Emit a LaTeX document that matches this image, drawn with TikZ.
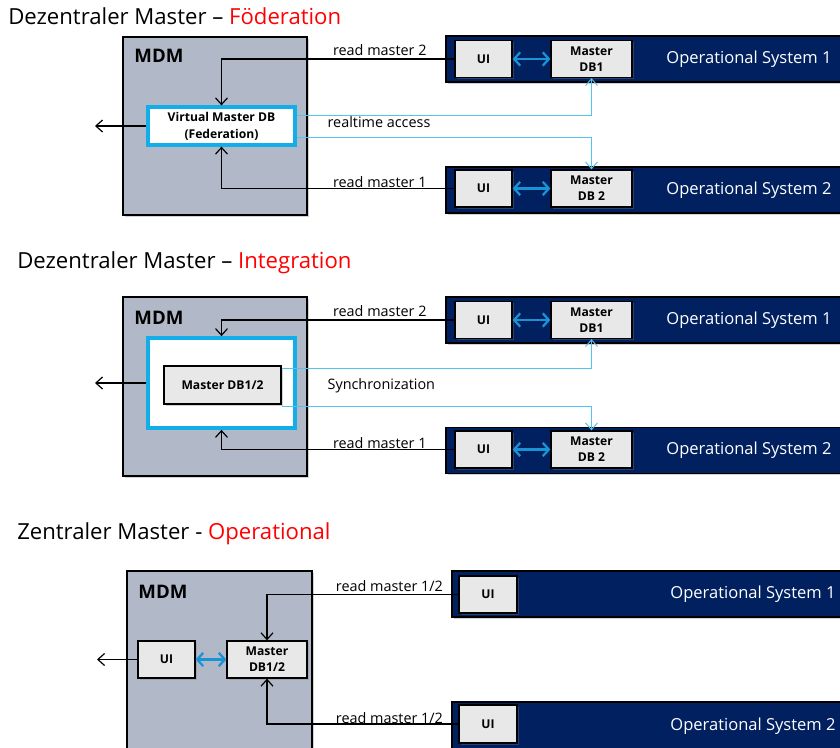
\documentclass[tikz,border=0pt]{standalone}
\usepackage{fontspec}
\setmainfont{Open Sans}
\usetikzlibrary{arrows.meta,calc,shadows}
\definecolor{mdmgray}{HTML}{B1B8C8}
\definecolor{navy}{HTML}{002060}
\definecolor{boxgray}{HTML}{E8E8E8}
\definecolor{cyanbd}{HTML}{12AEEA}
\definecolor{cyanln}{HTML}{52C2EE}
\definecolor{dblue}{HTML}{1A93D6}
\definecolor{titred}{HTML}{FF0000}
\newcommand\px{*0.75pt}
\tikzset{
  shd/.style={drop shadow={opacity=0.35, shadow xshift=1.5pt, shadow yshift=-1.5pt}},
  mdmbox/.style={draw=black, line width=1.1pt, fill=mdmgray, inner sep=0pt, shd},
  mdmtxt/.style={font=\bfseries\fontsize{14}{16}\selectfont, inner sep=0pt},
  osbar/.style={draw=black, line width=0.8pt, fill=navy, inner sep=0pt, shd},
  ostxt/.style={text=white, font=\fontsize{12.4}{14}\selectfont, inner sep=0pt},
  gbox/.style={draw=black, line width=1pt, fill=boxgray, inner sep=0pt, align=center,
    font=\bfseries\fontsize{9.1}{12}\selectfont, shd},
  cbox/.style={draw=cyanbd, line width=2.4pt, fill=white, inner sep=0pt, align=center,
    font=\bfseries\fontsize{9.1}{12.6}\selectfont},
  arr/.style={draw=black, line width=0.9pt, -{Straight Barb[length=5pt,width=9pt,line width=0.9pt]}},
  sync/.style={draw=cyanln, line width=0.7pt, -{Straight Barb[length=5pt,width=9pt,line width=0.7pt]}},
  dbl/.style={draw=dblue, line width=1.9pt, {Straight Barb[length=4.5pt,width=10pt,line width=1.7pt]}-{Straight Barb[length=4.5pt,width=10pt,line width=1.7pt]}},
  lbl/.style={font=\fontsize{10.8}{12}\selectfont, inner sep=1pt},
  title/.style={font=\fontsize{16.6}{19}\selectfont, inner sep=0pt, anchor=base west}
}
\begin{document}
\begin{tikzpicture}[x=0.75pt,y=-0.75pt]
\clip (0,0) rectangle (840,748);
\fill[white] (0,0) rectangle (840,748);

% ================= Section 1: Foederation =================
\node[title] (t1) at (8,25) {Dezentraler Master – \textcolor{titred}{Föderation}};
\node[mdmbox, minimum width=184\px, minimum height=178\px] (mdmA) at (215,126) {};
\node[mdmtxt] (mdmAt) at (159,56) {MDM};
\node[cbox, minimum width=147\px, minimum height=38\px] (vmdb) at (221.5,126) {Virtual Master DB\\(Federation)};
\coordinate (outA) at (95,126);
\draw[arr] (vmdb.west) -- (outA);

\node[osbar, minimum width=399\px, minimum height=46\px] (os1A) at (645.5,59) {};
\node[ostxt] (os1At) at (749,59) {Operational System 1};
\node[gbox, minimum width=57\px, minimum height=37\px] (ui1A) at (483.5,59) {UI};
\node[gbox, minimum width=81\px, minimum height=37\px] (db1A) at (591.5,59) {Master\\DB1};
\draw[dbl] (ui1A.east) -- (db1A.west);

\node[osbar, minimum width=399\px, minimum height=46\px] (os2A) at (645.5,190) {};
\node[ostxt] (os2At) at (749,190) {Operational System 2};
\node[gbox, minimum width=57\px, minimum height=37\px] (ui2A) at (483.5,188.5) {UI};
\node[gbox, minimum width=81\px, minimum height=37\px] (db2A) at (591.5,188.5) {Master\\DB 2};
\draw[dbl] (ui2A.east) -- (db2A.west);

\draw[arr] (ui1A.west) -| node[lbl, pos=0.16, anchor=south, yshift=1pt] (l1a) {read master 2} (vmdb.north);
\draw[arr] (ui2A.west) -| node[lbl, pos=0.16, anchor=base, yshift=0.5pt] (l1b) {read master 1} (vmdb.south);
\draw[sync] ($(vmdb.east)+(0,-11)$) -| (db1A.south);
\draw[sync] ($(vmdb.east)+(0,11)$) -| (db2A.north);
\node[lbl, anchor=west] (l1c) at (326,122) {realtime access};

% ================= Section 2: Integration =================
\node[title] (t2) at (17,269) {Dezentraler Master – \textcolor{titred}{Integration}};
\node[mdmbox, minimum width=184\px, minimum height=179\px] (mdmB) at (215,386.5) {};
\node[mdmtxt] (mdmBt) at (159,318) {MDM};
\node[cbox, line width=2.8pt, minimum width=147\px, minimum height=90\px] (intB) at (221.5,383) {};
\node[gbox, minimum width=117\px, minimum height=38\px] (dbB) at (222.5,385) {Master DB1/2};
\coordinate (outB) at (95,383);
\draw[arr] (intB.west) -- (outB);

\node[osbar, minimum width=399\px, minimum height=46\px] (os1B) at (645.5,320) {};
\node[ostxt] (os1Bt) at (749,320) {Operational System 1};
\node[gbox, minimum width=57\px, minimum height=37\px] (ui1B) at (483.5,320) {UI};
\node[gbox, minimum width=81\px, minimum height=37\px] (db1B) at (591.5,320) {Master\\DB1};
\draw[dbl] (ui1B.east) -- (db1B.west);

\node[osbar, minimum width=399\px, minimum height=46\px] (os2B) at (645.5,450.5) {};
\node[ostxt] (os2Bt) at (749,450.5) {Operational System 2};
\node[gbox, minimum width=57\px, minimum height=37\px] (ui2B) at (483.5,449.5) {UI};
\node[gbox, minimum width=81\px, minimum height=37\px] (db2B) at (591.5,449.5) {Master\\DB 2};
\draw[dbl] (ui2B.east) -- (db2B.west);

\draw[arr] (ui1B.west) -| node[lbl, pos=0.16, anchor=south, yshift=1pt] (l2a) {read master 2} (intB.north);
\draw[arr] (ui2B.west) -| node[lbl, pos=0.16, anchor=base, yshift=0.5pt] (l2b) {read master 1} (intB.south);
\draw[sync] ($(dbB.north east)+(0,3)$) -| (db1B.south);
\draw[sync] ($(dbB.south east)+(0,2)$) -| (db2B.north);
\node[lbl, anchor=west] (l2c) at (326,386) {Synchronization};

% ================= Section 3: Operational =================
\node[title] (t3) at (17,540) {Zentraler Master - \textcolor{titred}{Operational}};
\node[mdmbox, minimum width=185\px, minimum height=200\px] (mdmC) at (219.5,671) {};
\node[mdmtxt] (mdmCt) at (163,592) {MDM};
\node[gbox, minimum width=57\px, minimum height=37\px] (uiC) at (166.5,659.5) {UI};
\node[gbox, minimum width=80\px, minimum height=37\px] (dbC) at (267,659.5) {Master\\DB1/2};
\draw[dbl] (uiC.east) -- (dbC.west);
\coordinate (outC) at (97,659.5);
\draw[arr] (uiC.west) -- (outC);

\node[osbar, minimum width=392\px, minimum height=46\px] (os1C) at (648,594) {};
\node[ostxt] (os1Ct) at (753,594) {Operational System 1};
\node[gbox, minimum width=58\px, minimum height=37\px] (ui1C) at (488,594.5) {UI};

\node[osbar, minimum width=392\px, minimum height=60\px] (os2C) at (648,732) {};
\node[ostxt] (os2Ct) at (753,726) {Operational System 2};
\node[gbox, minimum width=58\px, minimum height=38\px] (ui2C) at (488,724) {UI};

\draw[arr] (ui1C.west) -| node[lbl, pos=0.18, anchor=south, yshift=1pt] (l3a) {read master 1/2} (dbC.north);
\draw[arr] (ui2C.west) -| node[lbl, pos=0.18, anchor=base, yshift=0.5pt] (l3b) {read master 1/2} (dbC.south);
\end{tikzpicture}
\end{document}
